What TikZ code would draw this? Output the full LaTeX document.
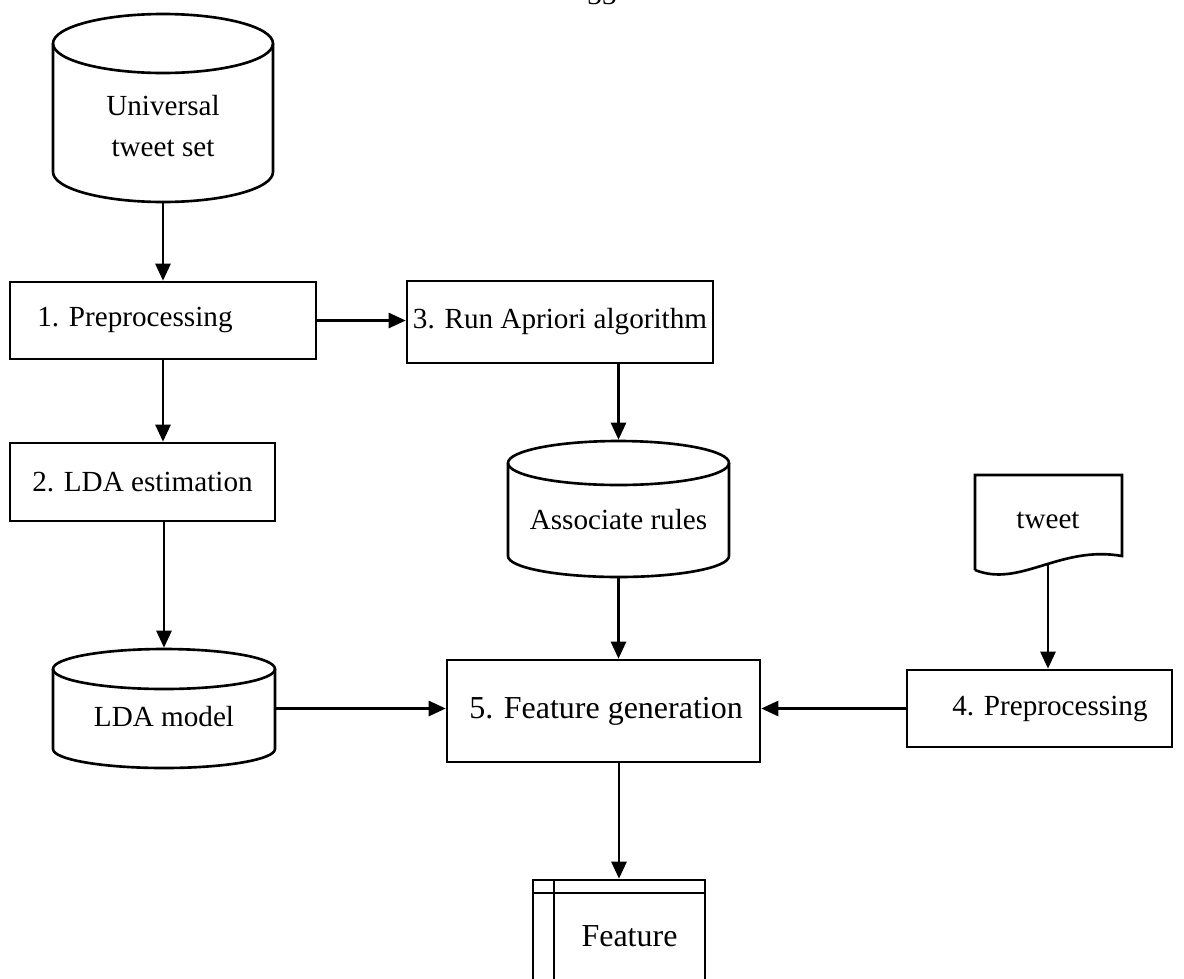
\documentclass[tikz,border=0pt]{standalone}
\usepackage{fontspec}
\setmainfont{Liberation Serif}
\usetikzlibrary{arrows.meta,calc}
\begin{document}
\begin{tikzpicture}[x=0.02cm,y=-0.02cm,
  line width=1.5pt,
  every node/.style={font=\fontsize{16.6pt}{23.8pt}\selectfont},
  big/.style={font=\fontsize{18.2pt}{24pt}\selectfont},
  proc/.style={draw, rectangle, inner sep=0pt},
  area/.style={rectangle, inner sep=0pt},
  label text/.style={align=center, inner sep=0pt},
  arr/.style={-{Triangle[length=0.34cm,width=0.3cm]}}]
\useasboundingbox (0,0) rectangle (1184,978);

% page number fragment
\node[anchor=base, inner sep=0pt] (pg) at (602,4) {33};

% process boxes
\node[proc, minimum width=6.12cm, minimum height=1.54cm] (p1) at (163,320.5) {};
\node[label text] (p1-t) at (135,320) {1. Preprocessing};
\node[proc, minimum width=6.12cm, minimum height=1.64cm] (p3) at (560,322) {3. Run Apriori algorithm};
\node[proc, minimum width=5.3cm, minimum height=1.56cm] (p2) at (142.5,482) {2. LDA estimation};
\node[proc, minimum width=6.26cm, minimum height=2.04cm] (p5) at (603.5,711) {};
\node[label text, big] (p5-t) at (606,711) {5. Feature generation};
\node[proc, minimum width=5.3cm, minimum height=1.54cm] (p4) at (1039.5,708.5) {};
\node[label text] (p4-t) at (1050,709) {4. Preprocessing};

% cylinder: Universal tweet set
\node[area, minimum width=4.4cm, minimum height=3.76cm] (uts) at (163,108) {};
\draw (163,43.5) ellipse [x radius=110, y radius=29.5];
\draw (53,43.5) -- (53,172) arc[start angle=180, end angle=0, x radius=110, y radius=30] -- (273,43.5);
\node[label text] (uts-t) at (163,126) {Universal\\tweet set};

% cylinder: Associate rules
\node[area, minimum width=4.42cm, minimum height=2.72cm] (assoc) at (618.5,509) {};
\draw (618.5,463) ellipse [x radius=110.5, y radius=22];
\draw (508,463) -- (508,556) arc[start angle=180, end angle=0, x radius=110.5, y radius=21] -- (729,463);
\node[label text] (assoc-t) at (618.5,520) {Associate rules};

% cylinder: LDA model
\node[area, minimum width=4.44cm, minimum height=2.38cm] (lda) at (164,708.5) {};
\draw (164,669) ellipse [x radius=111, y radius=20];
\draw (53,669) -- (53,749) arc[start angle=180, end angle=0, x radius=111, y radius=19] -- (275,669);
\node[label text] (lda-t) at (164,717) {LDA model};

% document: tweet
\node[area, minimum width=2.94cm, minimum height=2cm] (tweet) at (1048.5,525) {};
\draw (975,570) -- (975,475) -- (1122,475) -- (1122,556)
  .. controls (1060,545) and (1020,588) .. (975,570);
\node[label text] (tweet-t) at (1048,520) {tweet};
\coordinate (tweetbot) at (1048,565);

% stored data: Feature
\node[area, minimum width=3.44cm, minimum height=2.4cm] (feat) at (619,940) {};
\draw (533,1000) -- (533,880) -- (705,880) -- (705,1000);
\draw (533,893) -- (705,893);
\draw (554,880) -- (554,1000);
\node[label text, big] (feat-t) at (629.5,936) {Feature};

% connectors
\draw[arr] (uts.south) -- (uts.south |- p1.north);
\draw[arr] (p1.east) -- (p1.east -| p3.west);
\draw[arr] (assoc.north |- p3.south) -- (assoc.north);
\draw[arr] (p1.south) -- (p1.south |- p2.north);
\draw[arr] (p2.south -| lda.north) -- (lda.north);
\draw[arr] (lda.east) -- (lda.east -| p5.west);
\draw[arr] (assoc.south) -- (assoc.south |- p5.north);
\draw[arr] (tweetbot) -- (tweetbot |- p4.north);
\draw[arr] (p4.west) -- (p4.west -| p5.east);
\draw[arr] (p5.south -| feat.north) -- (feat.north);
\end{tikzpicture}
\end{document}
